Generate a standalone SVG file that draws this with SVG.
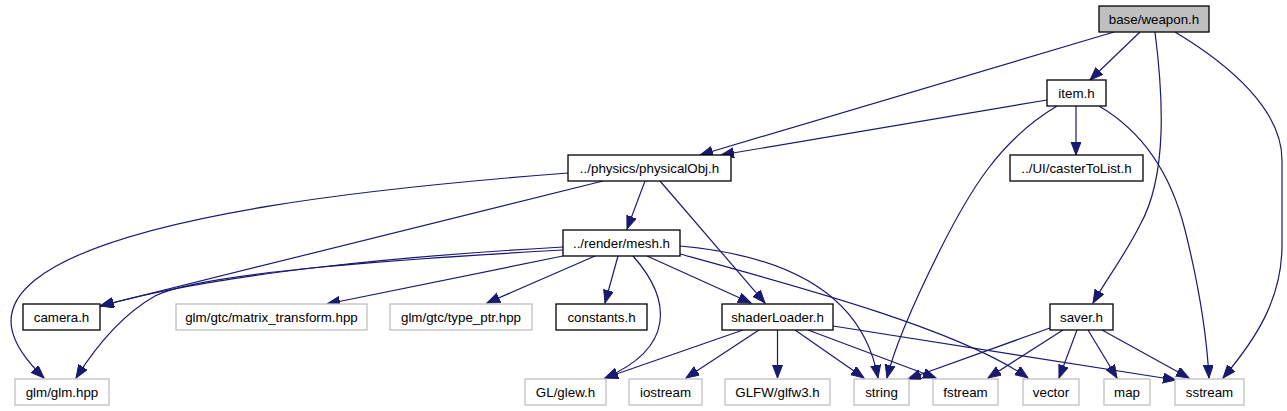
<svg xmlns="http://www.w3.org/2000/svg" width="1287" height="411" viewBox="0 0 1287 411">
<defs>
<style>
.n rect{fill:#fff;stroke:#000;stroke-width:1.3}
.n.u rect{stroke:#bfbfbf;stroke-width:1.3}
.n.r rect{fill:#bfbfbf;stroke:#000}
.n text{font-family:"Liberation Sans",Arial,sans-serif;font-size:13.33px;fill:#000;text-anchor:middle}
.e path{fill:none;stroke:#191970;stroke-width:1.2;marker-end:url(#ah)}
</style>
<marker id="ah" markerUnits="userSpaceOnUse" markerWidth="14" markerHeight="11" refX="13" refY="5" orient="auto">
<path d="M0,0 L13,5 L0,10 z" fill="#191970" stroke="#191970" stroke-width="1"/>
</marker>
</defs>
<rect width="1287" height="411" fill="#fff"/>
<g id="edges" class="e">
<path d="M1114,32 L700,155"/>
<path d="M1140,32 L1090,80"/>
<path d="M1155,32 C1163,95 1168,175 1140,225 C1125,255 1106,280 1093,303"/>
<path d="M1175,32 C1230,65 1282,110 1282,160 L1282,245 C1282,300 1255,340 1223,378"/>
<path d="M1047,100 L721,155"/>
<path d="M1076,106 L1076,155"/>
<path d="M1057,106 C1000,140 970,190 940,250 C915,300 895,345 887,378"/>
<path d="M1099,106 C1140,130 1170,170 1185,230 C1200,290 1207,340 1209,378"/>
<path d="M568,173 C400,186 120,212 35,280 C-5,312 10,345 44,378"/>
<path d="M603,181 L100,306"/>
<path d="M645,181 L627,229"/>
<path d="M660,181 L765,303"/>
<path d="M563,247 C420,255 220,272 101,306"/>
<path d="M563,250 C420,258 200,272 155,296 C125,313 100,340 76,378"/>
<path d="M563,256 L327,304"/>
<path d="M595,256 L487,303"/>
<path d="M618,256 L605,303"/>
<path d="M633,256 C672,300 675,348 605,378"/>
<path d="M647,256 L751,303"/>
<path d="M680,246 C780,255 862,290 878,378"/>
<path d="M680,254 C800,287 960,330 1028,378"/>
<path d="M743,330 L605,378"/>
<path d="M759,330 L686,378"/>
<path d="M777.5,330 L777.5,378"/>
<path d="M795,330 L864,378"/>
<path d="M808,330 L936,378"/>
<path d="M833,326 L1176,380"/>
<path d="M1050,328 L908,379"/>
<path d="M1063,330 L988,378"/>
<path d="M1077,330 L1059,378"/>
<path d="M1088,330 L1117,378"/>
<path d="M1102,330 L1189,378"/>
</g>
<g id="weapon" class="n r"><rect x="1099" y="6" width="110" height="26"/><text x="1154" y="23.5">base/weapon.h</text></g>
<g id="item" class="n"><rect x="1047" y="80" width="59" height="26"/><text x="1076.5" y="97.5">item.h</text></g>
<g id="casterToList" class="n"><rect x="1010" y="155" width="133" height="26"/><text x="1076.5" y="172.5">../UI/casterToList.h</text></g>
<g id="physicalObj" class="n"><rect x="568" y="155" width="163" height="26"/><text x="649.5" y="172.5">../physics/physicalObj.h</text></g>
<g id="mesh" class="n"><rect x="563" y="230" width="117" height="26"/><text x="621.5" y="247.5">../render/mesh.h</text></g>
<g id="camera" class="n"><rect x="23" y="304" width="77" height="26"/><text x="61.5" y="321.5">camera.h</text></g>
<g id="matrix_transform" class="n u"><rect x="176" y="304" width="191" height="26"/><text x="271.5" y="321.5">glm/gtc/matrix_transform.hpp</text></g>
<g id="type_ptr" class="n u"><rect x="390" y="304" width="142" height="26"/><text x="461" y="321.5">glm/gtc/type_ptr.hpp</text></g>
<g id="constants" class="n"><rect x="556" y="304" width="91" height="26"/><text x="601.5" y="321.5">constants.h</text></g>
<g id="shaderLoader" class="n"><rect x="722" y="304" width="111" height="26"/><text x="777.5" y="321.5">shaderLoader.h</text></g>
<g id="saver" class="n"><rect x="1050" y="304" width="63" height="26"/><text x="1081.5" y="321.5">saver.h</text></g>
<g id="glm" class="n u"><rect x="15" y="379" width="94" height="26"/><text x="62" y="396.5">glm/glm.hpp</text></g>
<g id="glew" class="n u"><rect x="525" y="379" width="81" height="26"/><text x="565.5" y="396.5">GL/glew.h</text></g>
<g id="iostream" class="n u"><rect x="629" y="379" width="73" height="26"/><text x="665.5" y="396.5">iostream</text></g>
<g id="glfw3" class="n u"><rect x="725" y="379" width="105" height="26"/><text x="777.5" y="396.5">GLFW/glfw3.h</text></g>
<g id="string" class="n u"><rect x="854" y="379" width="55" height="26"/><text x="881.5" y="396.5">string</text></g>
<g id="fstream" class="n u"><rect x="933" y="379" width="65" height="26"/><text x="965.5" y="396.5">fstream</text></g>
<g id="vector" class="n u"><rect x="1023" y="379" width="56" height="26"/><text x="1051" y="396.5">vector</text></g>
<g id="map" class="n u"><rect x="1104" y="379" width="46" height="26"/><text x="1127" y="396.5">map</text></g>
<g id="sstream" class="n u"><rect x="1175" y="379" width="69" height="26"/><text x="1209.5" y="396.5">sstream</text></g>
</svg>
